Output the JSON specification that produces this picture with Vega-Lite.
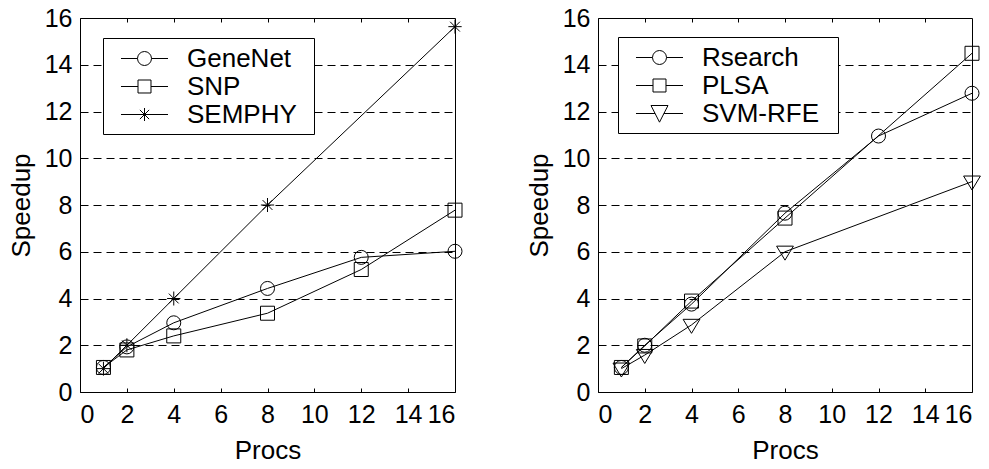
{
  "$schema": "https://vega.github.io/schema/vega-lite/v6.json",
  "background": "white",
  "padding": {"left": 7, "top": 5, "right": 5, "bottom": 5},
  "spacing": 60,
  "config": {
    "font": "Liberation Sans",
    "view": {"stroke": "black", "strokeWidth": 1},
    "axis": {
      "labelFont": "Liberation Sans",
      "titleFont": "Liberation Sans",
      "labelFontSize": 25,
      "titleFontSize": 26,
      "labelColor": "black",
      "titleColor": "black",
      "titleFontWeight": "normal",
      "domain": false,
      "tickColor": "black",
      "tickWidth": 1
    },
    "legend": {
      "labelFont": "Liberation Sans",
      "labelFontSize": 26,
      "labelColor": "black",
      "titleFont": "Liberation Sans",
      "titleFontSize": 26,
      "titleFontWeight": "normal",
      "strokeColor": "black",
      "fillColor": "white",
      "padding": 6,
      "symbolSize": 784,
      "rowPadding": 0,
      "symbolOffset": 21,
      "labelOffset": 28,
      "symbolStrokeColor": "black",
      "symbolFillColor": "white",
      "symbolStrokeWidth": 1,
      "symbolOpacity": 1
    }
  },
  "hconcat": [
    {
      "width": 375,
      "height": 374,
      "data": {"values": [
        {"series": "GeneNet", "Procs": 1, "Speedup": 1.05},
        {"series": "GeneNet", "Procs": 2, "Speedup": 1.93},
        {"series": "GeneNet", "Procs": 4, "Speedup": 2.96},
        {"series": "GeneNet", "Procs": 8, "Speedup": 4.43},
        {"series": "GeneNet", "Procs": 12, "Speedup": 5.76},
        {"series": "GeneNet", "Procs": 16, "Speedup": 6.02},
        {"series": "SNP", "Procs": 1, "Speedup": 1.05},
        {"series": "SNP", "Procs": 2, "Speedup": 1.8},
        {"series": "SNP", "Procs": 4, "Speedup": 2.4},
        {"series": "SNP", "Procs": 8, "Speedup": 3.37},
        {"series": "SNP", "Procs": 12, "Speedup": 5.24},
        {"series": "SNP", "Procs": 16, "Speedup": 7.78},
        {"series": "SEMPHY", "Procs": 1, "Speedup": 1.0},
        {"series": "SEMPHY", "Procs": 2, "Speedup": 2.0},
        {"series": "SEMPHY", "Procs": 4, "Speedup": 4.0},
        {"series": "SEMPHY", "Procs": 8, "Speedup": 8.0},
        {"series": "SEMPHY", "Procs": 16, "Speedup": 15.63}
      ]},
      "resolve": {"axis": {"x": "independent"}, "scale": {"shape": "independent"}, "legend": {"shape": "independent"}},
      "layer": [
        {
          "mark": {"type": "line", "color": "black", "strokeWidth": 1},
          "encoding": {
            "x": {"field": "Procs", "type": "quantitative", "scale": {"domain": [0, 16], "nice": false},
              "axis": {"orient": "bottom", "values": [0, 2, 4, 6, 8, 10, 12, 14, 16], "tickSize": -4, "labelPadding": 14, "grid": false, "title": "Procs", "titlePadding": 10}},
            "y": {"field": "Speedup", "type": "quantitative", "scale": {"domain": [0, 16], "nice": false},
              "axis": {"values": [0, 2, 4, 6, 8, 10, 12, 14, 16], "ticks": false, "labelPadding": 8, "grid": true, "gridColor": "black", "gridDash": [8, 5], "gridOpacity": 1, "title": "Speedup", "titlePadding": 10}},
            "detail": {"field": "series"}
          }
        },
        {
          "mark": {"type": "point", "filled": false, "color": "black", "strokeWidth": 1, "opacity": 1, "size": 196},
          "encoding": {
            "x": {"field": "Procs", "type": "quantitative", "scale": {"domain": [0, 16], "nice": false},
              "axis": {"orient": "top", "values": [2, 4, 6, 8, 10, 12, 14], "labels": false, "tickSize": -4, "grid": false, "title": null}},
            "y": {"field": "Speedup", "type": "quantitative", "scale": {"domain": [0, 16], "nice": false},
              "axis": {"values": [0, 2, 4, 6, 8, 10, 12, 14, 16], "ticks": false, "labelPadding": 8, "grid": true, "gridColor": "black", "gridDash": [8, 5], "gridOpacity": 1, "title": "Speedup", "titlePadding": 10}},
            "shape": {"field": "series", "type": "nominal",
              "scale": {"domain": ["GeneNet", "SNP", "SEMPHY"], "range": ["circle", "M-1,-1L1,-1L1,1L-1,1Z", "M-0.95,0L0.95,0M0,-1L0,1M-0.7,-0.7L0.7,0.7M-0.7,0.7L0.7,-0.7"]},
              "legend": null}
          }
        },
        {
          "mark": {"type": "point", "filled": false, "color": "black", "strokeWidth": 1, "size": 0},
          "encoding": {
            "x": {"field": "Procs", "type": "quantitative", "scale": {"domain": [0, 16], "nice": false}, "axis": null},
            "y": {"field": "Speedup", "type": "quantitative", "scale": {"domain": [0, 16], "nice": false},
              "axis": {"values": [0, 2, 4, 6, 8, 10, 12, 14, 16], "ticks": false, "labelPadding": 8, "grid": true, "gridColor": "black", "gridDash": [8, 5], "gridOpacity": 1, "title": "Speedup", "titlePadding": 10}},
            "shape": {"field": "series", "type": "nominal",
              "scale": {"domain": ["GeneNet", "SNP", "SEMPHY"], "range": [
                "M-1.679,0L-0.5,0M0.5,0L0.462,0.191L0.354,0.354L0.191,0.462L0,0.5L-0.191,0.462L-0.354,0.354L-0.462,0.191L-0.5,0L-0.462,-0.191L-0.354,-0.354L-0.191,-0.462L0,-0.5L0.191,-0.462L0.354,-0.354L0.462,-0.191ZM0.5,0L1.679,0",
                "M-1.679,0L-0.464,0M0.464,0L1.679,0M-0.464,-0.464L0.464,-0.464L0.464,0.464L-0.464,0.464Z",
                "M-1.679,0L1.679,0M0,-0.464L0,0.464M-0.33,-0.33L0.33,0.33M-0.33,0.33L0.33,-0.33"]},
              "legend": {"title": " ", "titleOrient": "right", "titlePadding": 11, "orient": "none", "legendX": 23, "legendY": 20, "symbolSize": 784}
            }
          }
        }
      ]
    },
    {
      "width": 374,
      "height": 374,
      "data": {"values": [
        {"series": "Rsearch", "Procs": 1, "Speedup": 1.05},
        {"series": "Rsearch", "Procs": 2, "Speedup": 2.0},
        {"series": "Rsearch", "Procs": 4, "Speedup": 3.76},
        {"series": "Rsearch", "Procs": 8, "Speedup": 7.65},
        {"series": "Rsearch", "Procs": 12, "Speedup": 10.95},
        {"series": "Rsearch", "Procs": 16, "Speedup": 12.78},
        {"series": "PLSA", "Procs": 1, "Speedup": 1.05},
        {"series": "PLSA", "Procs": 2, "Speedup": 1.97},
        {"series": "PLSA", "Procs": 4, "Speedup": 3.89},
        {"series": "PLSA", "Procs": 8, "Speedup": 7.44},
        {"series": "PLSA", "Procs": 16, "Speedup": 14.49},
        {"series": "SVM-RFE", "Procs": 1, "Speedup": 1.0},
        {"series": "SVM-RFE", "Procs": 2, "Speedup": 1.58},
        {"series": "SVM-RFE", "Procs": 4, "Speedup": 2.87},
        {"series": "SVM-RFE", "Procs": 8, "Speedup": 6.0},
        {"series": "SVM-RFE", "Procs": 16, "Speedup": 9.0}
      ]},
      "resolve": {"axis": {"x": "independent"}, "scale": {"shape": "independent"}, "legend": {"shape": "independent"}},
      "layer": [
        {
          "mark": {"type": "line", "color": "black", "strokeWidth": 1},
          "encoding": {
            "x": {"field": "Procs", "type": "quantitative", "scale": {"domain": [0, 16], "nice": false},
              "axis": {"orient": "bottom", "values": [0, 2, 4, 6, 8, 10, 12, 14, 16], "tickSize": -4, "labelPadding": 14, "grid": false, "title": "Procs", "titlePadding": 10}},
            "y": {"field": "Speedup", "type": "quantitative", "scale": {"domain": [0, 16], "nice": false},
              "axis": {"values": [0, 2, 4, 6, 8, 10, 12, 14, 16], "ticks": false, "labelPadding": 8, "grid": true, "gridColor": "black", "gridDash": [8, 5], "gridOpacity": 1, "title": "Speedup", "titlePadding": 10}},
            "detail": {"field": "series"}
          }
        },
        {
          "mark": {"type": "point", "filled": false, "color": "black", "strokeWidth": 1, "opacity": 1, "size": 196},
          "encoding": {
            "x": {"field": "Procs", "type": "quantitative", "scale": {"domain": [0, 16], "nice": false},
              "axis": {"orient": "top", "values": [2, 4, 6, 8, 10, 12, 14], "labels": false, "tickSize": -4, "grid": false, "title": null}},
            "y": {"field": "Speedup", "type": "quantitative", "scale": {"domain": [0, 16], "nice": false},
              "axis": {"values": [0, 2, 4, 6, 8, 10, 12, 14, 16], "ticks": false, "labelPadding": 8, "grid": true, "gridColor": "black", "gridDash": [8, 5], "gridOpacity": 1, "title": "Speedup", "titlePadding": 10}},
            "shape": {"field": "series", "type": "nominal",
              "scale": {"domain": ["Rsearch", "PLSA", "SVM-RFE"], "range": ["circle", "M-1,-1L1,-1L1,1L-1,1Z", "M-1.2,-0.8L1.2,-0.8L0,1.2Z"]},
              "legend": null}
          }
        },
        {
          "mark": {"type": "point", "filled": false, "color": "black", "strokeWidth": 1, "size": 0},
          "encoding": {
            "x": {"field": "Procs", "type": "quantitative", "scale": {"domain": [0, 16], "nice": false}, "axis": null},
            "y": {"field": "Speedup", "type": "quantitative", "scale": {"domain": [0, 16], "nice": false},
              "axis": {"values": [0, 2, 4, 6, 8, 10, 12, 14, 16], "ticks": false, "labelPadding": 8, "grid": true, "gridColor": "black", "gridDash": [8, 5], "gridOpacity": 1, "title": "Speedup", "titlePadding": 10}},
            "shape": {"field": "series", "type": "nominal",
              "scale": {"domain": ["Rsearch", "PLSA", "SVM-RFE"], "range": [
                "M-1.679,0L-0.5,0M0.5,0L0.462,0.191L0.354,0.354L0.191,0.462L0,0.5L-0.191,0.462L-0.354,0.354L-0.462,0.191L-0.5,0L-0.462,-0.191L-0.354,-0.354L-0.191,-0.462L0,-0.5L0.191,-0.462L0.354,-0.354L0.462,-0.191ZM0.5,0L1.679,0",
                "M-1.679,0L-0.464,0M0.464,0L1.679,0M-0.464,-0.464L0.464,-0.464L0.464,0.464L-0.464,0.464Z",
                "M-1.679,0L-0.316,0M0.316,0L1.679,0M-0.607,-0.571L0.607,-0.571L0,0.62Z"]},
              "legend": {"title": " ", "titleOrient": "right", "titlePadding": 13, "orient": "none", "legendX": 20, "legendY": 19, "symbolSize": 784}
            }
          }
        }
      ]
    }
  ]
}
